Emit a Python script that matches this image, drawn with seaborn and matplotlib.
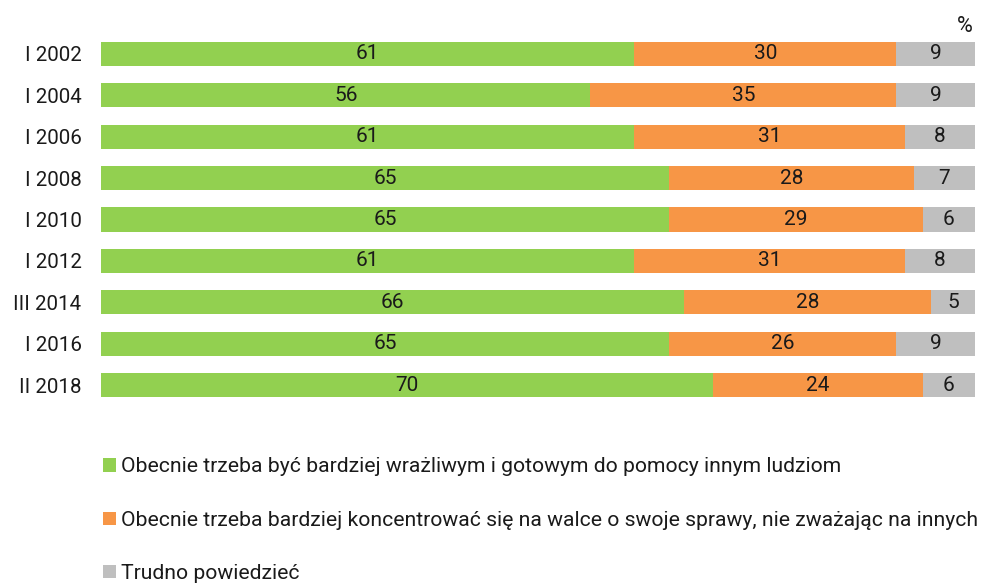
import numpy as np
import pandas as pd
import matplotlib
matplotlib.use("Agg")
import matplotlib.pyplot as plt
from matplotlib.patches import Patch
import seaborn as sns

# data
years = ["I 2002", "I 2004", "I 2006", "I 2008", "I 2010", "I 2012", "III 2014", "I 2016", "II 2018"]
sensitive = [61, 56, 61, 65, 65, 61, 66, 65, 70]
own_affairs = [30, 35, 31, 28, 29, 31, 28, 26, 24]
hard_to_say = [9, 9, 8, 7, 6, 8, 5, 9, 6]
series_names = [
    "Obecnie trzeba być bardziej wrażliwym i gotowym do pomocy innym ludziom",
    "Obecnie trzeba bardziej koncentrować się na walce o swoje sprawy, nie zważając na innych",
    "Trudno powiedzieć",
]
colors = ["#92D050", "#F79646", "#BFBFBF"]

sns.set_style("white")
plt.rcParams["font.family"] = ["Roboto", "DejaVu Sans"]

df = pd.DataFrame({"year": years, "s1": sensitive, "s2": own_affairs, "s3": hard_to_say})
total = df[["s1", "s2", "s3"]].sum(axis=1)
# 100% stacked: normalise each row
df["c1"] = df["s1"] / total * 100
df["c2"] = (df["s1"] + df["s2"]) / total * 100
df["c3"] = (df["s1"] + df["s2"] + df["s3"]) / total * 100

fig = plt.figure(figsize=(9.86, 5.83), dpi=100)
ax = fig.add_axes([101 / 986, 0.304, 874 / 986, 0.639])

# draw the cumulative layers from the back to the front
for col, c in zip(["c3", "c2", "c1"], colors[::-1]):
    sns.barplot(data=df, x=col, y="year", orient="h", color=c, width=0.58,
                saturation=1, ax=ax, linewidth=0)

# value labels centred in each segment
starts = [np.zeros(len(df)), df["c1"].values, df["c2"].values]
ends = [df["c1"].values, df["c2"].values, df["c3"].values]
vals = [sensitive, own_affairs, hard_to_say]
for s, e, v in zip(starts, ends, vals):
    for i in range(len(df)):
        ax.text((s[i] + e[i]) / 2, i, str(v[i]), ha="center", va="center",
                fontsize=15, color="#1a1a1a")

ax.set_xlim(0, 100)
ax.set_ylim(len(years) - 0.5, -0.5)
ax.set_xlabel("")
ax.set_ylabel("")
ax.set_xticks([])
ax.tick_params(axis="y", length=0, labelsize=14.8, pad=14, colors="#1a1a1a")
sns.despine(ax=ax, left=True, bottom=True)

fig.text(965 / 986, 1 - 27 / 583, "%", ha="center", va="center", fontsize=15.5, color="#1a1a1a")

handles = [Patch(facecolor=c, edgecolor="none") for c in colors]
fig.legend(handles, series_names, loc="upper left", bbox_to_anchor=(95 / 986, 1 - 449 / 583),
           frameon=False, fontsize=15.2, handlelength=0.6, handleheight=0.6,
           handletextpad=0.25, labelspacing=1.62, borderaxespad=0, labelcolor="#1a1a1a")

fig.savefig("out.png", dpi=100)
